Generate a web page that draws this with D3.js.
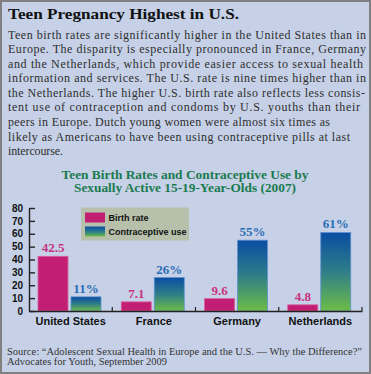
<!DOCTYPE html>
<html><head><meta charset="utf-8">
<script src="https://cdn.jsdelivr.net/npm/d3@7"></script>
<style>html,body{margin:0;padding:0;background:#fff;}svg{display:block;}</style>
</head><body>
<script>
const categories = ["United States", "France", "Germany", "Netherlands"];
const birthRate = [42.5, 7.1, 9.6, 4.8];
const contraceptiveUse = [11, 26, 55, 61];
const yTicks = [0, 10, 20, 30, 40, 50, 60, 70, 80];
const seriesNames = ["Birth rate", "Contraceptive use"];
const title = "Teen Pregnancy Highest in U.S.";
const bodyLines = [
  "Teen birth rates are significantly higher in the United States than in",
  "Europe. The disparity is especially pronounced in France, Germany",
  "and the Netherlands, which provide easier access to sexual health",
  "information and services. The U.S. rate is nine times higher than in",
  "the Netherlands. The higher U.S. birth rate also reflects less consis-",
  "tent use of contraception and condoms by U.S. youths than their",
  "peers in Europe. Dutch young women were almost six times as",
  "likely as Americans to have been using contraceptive pills at last",
  "intercourse."
];
const bodyWidths = [358, 358, 355, 358, 357, 352, 322, 342, 55];
const chartTitle = ["Teen Birth Rates and Contraceptive Use by", "Sexually Active 15-19-Year-Olds (2007)"];
const sourceLines = ["Source: \u201CAdolescent Sexual Health in Europe and the U.S. \u2014 Why the Difference?\u201D",
                     "Advocates for Youth, September 2009"];

const W = 371, H = 374;
const svg = d3.select("body").append("svg").attr("width", W).attr("height", H);
const defs = svg.append("defs");
const grad = defs.append("linearGradient").attr("id", "cg").attr("x1", 0).attr("y1", 0).attr("x2", 0).attr("y2", 1);
grad.append("stop").attr("offset", "0%").attr("stop-color", "#0a4da3");
grad.append("stop").attr("offset", "50%").attr("stop-color", "#2f7e88");
grad.append("stop").attr("offset", "100%").attr("stop-color", "#6dbd46");
const lgrad = defs.append("linearGradient").attr("id", "cgl").attr("x1", 0).attr("y1", 0).attr("x2", 0).attr("y2", 1);
lgrad.append("stop").attr("offset", "0%").attr("stop-color", "#0a4da3");
lgrad.append("stop").attr("offset", "55%").attr("stop-color", "#2f7e88");
lgrad.append("stop").attr("offset", "100%").attr("stop-color", "#6dbd46");

// background + border
svg.append("rect").attr("x", 1).attr("y", 1).attr("width", W - 2).attr("height", H - 2)
  .attr("fill", "#c6d1e7").attr("stroke", "#808080").attr("stroke-width", 2);

const serif = "'Liberation Serif','Times New Roman',serif";
const sans = "'Liberation Sans',Arial,sans-serif";

svg.append("text").attr("x", 8).attr("y", 19).text(title)
  .attr("font-family", serif).attr("font-weight", "bold").attr("font-size", 15.5)
  .attr("fill", "#111").attr("textLength", 231).attr("lengthAdjust", "spacingAndGlyphs");

svg.append("g").selectAll("text").data(bodyLines).join("text")
  .attr("x", 8).attr("y", (d, i) => 38.7 + i * 14.55)
  .attr("font-family", serif).attr("font-size", 12).attr("fill", "#2e2e2e")
  .attr("textLength", (d, i) => bodyWidths[i]).attr("lengthAdjust", "spacing")
  .text(d => d);

svg.append("g").selectAll("text").data(chartTitle).join("text")
  .attr("x", 185).attr("y", (d, i) => 178.5 + i * 13.5).attr("text-anchor", "middle")
  .attr("font-family", serif).attr("font-weight", "bold").attr("font-size", 12.5)
  .attr("fill", "#1b7a50")
  .attr("textLength", (d, i) => [247, 222][i]).attr("lengthAdjust", "spacingAndGlyphs")
  .text(d => d);

// scales
const x = d3.scaleBand().domain(categories).range([29, 362]).padding(0);
const inner = d3.scaleBand().domain(seriesNames).range([9, 72]).paddingInner(1 / 11);
const y = d3.scaleLinear().domain([0, 80]).range([311, 208]);

const data = categories.map((c, i) => ({ c, vals: [birthRate[i], contraceptiveUse[i]] }));

const groups = svg.append("g").selectAll("g").data(data).join("g")
  .attr("transform", d => `translate(${x(d.c)},0)`);

groups.selectAll("rect").data(d => seriesNames.map((s, j) => ({ s, v: d.vals[j], j }))).join("rect")
  .attr("x", d => inner(d.s)).attr("width", inner.bandwidth())
  .attr("y", d => y(d.v)).attr("height", d => y(0) - y(d.v))
  .attr("fill", d => d.j === 0 ? "#c21e74" : "url(#cg)")
  .attr("stroke", d => d.j === 0 ? "#d9609c" : "#5f92cf").attr("stroke-width", 0.8);

groups.selectAll("text").data(d => seriesNames.map((s, j) => ({ s, v: d.vals[j], j }))).join("text")
  .attr("x", d => inner(d.s) + inner.bandwidth() / 2).attr("y", d => y(d.v) - 4)
  .attr("text-anchor", "middle")
  .attr("font-family", serif).attr("font-weight", "bold").attr("font-size", 13)
  .attr("fill", d => d.j === 0 ? "#c8347f" : "#2a6db5")
  .text(d => d.j === 0 ? d3.format(".1f")(d.v) : d.v + "%");

// y axis
const yAxis = svg.append("g").attr("transform", "translate(29,0)")
  .call(d3.axisLeft(y).tickValues(yTicks).tickSizeInner(-6).tickSizeOuter(0).tickPadding(6));
yAxis.select(".domain").attr("stroke", "#222").attr("stroke-width", 1.4);
yAxis.selectAll(".tick line").attr("stroke", "#222").attr("stroke-width", 1.4);
yAxis.selectAll(".tick text").attr("font-family", sans).attr("font-weight", "bold")
  .attr("font-size", 10).attr("fill", "#111");

// x axis
const xAxis = svg.append("g").attr("transform", "translate(0,311)")
  .call(d3.axisBottom(x).tickSize(0).tickPadding(6));
xAxis.select(".domain").attr("stroke", "#222").attr("stroke-width", 1.4);
xAxis.selectAll(".tick text").attr("font-family", sans).attr("font-weight", "bold")
  .attr("font-size", 11).attr("fill", "#111");
const bounds = categories.slice(1).map(c => x(c)).concat([x.range()[1]]);
xAxis.selectAll("line.bnd").data(bounds).join("line").attr("class", "bnd")
  .attr("x1", d => d).attr("x2", d => d).attr("y1", 0).attr("y2", -4)
  .attr("stroke", "#222").attr("stroke-width", 1.2);

// legend
const lg = svg.append("g").attr("transform", "translate(81,207.5)");
lg.append("rect").attr("width", 108).attr("height", 33).attr("fill", "#b6c0ab");
const li = lg.selectAll("g").data(seriesNames).join("g")
  .attr("transform", (d, i) => `translate(4,${5 + i * 14})`);
li.append("rect").attr("width", 20).attr("height", 10)
  .attr("fill", (d, i) => i === 0 ? "#c21e74" : "url(#cgl)");
li.append("text").attr("x", 23.5).attr("y", 8.5).text(d => d)
  .attr("font-family", sans).attr("font-weight", "bold").attr("font-size", 9).attr("fill", "#111");

// source
svg.append("g").selectAll("text").data(sourceLines).join("text")
  .attr("x", 7).attr("y", (d, i) => 354.5 + i * 10.7)
  .attr("font-family", serif).attr("font-size", 10.2).attr("fill", "#333")
  .attr("textLength", (d, i) => [355, 160][i]).attr("lengthAdjust", "spacingAndGlyphs")
  .text(d => d);
</script>
</body></html>
